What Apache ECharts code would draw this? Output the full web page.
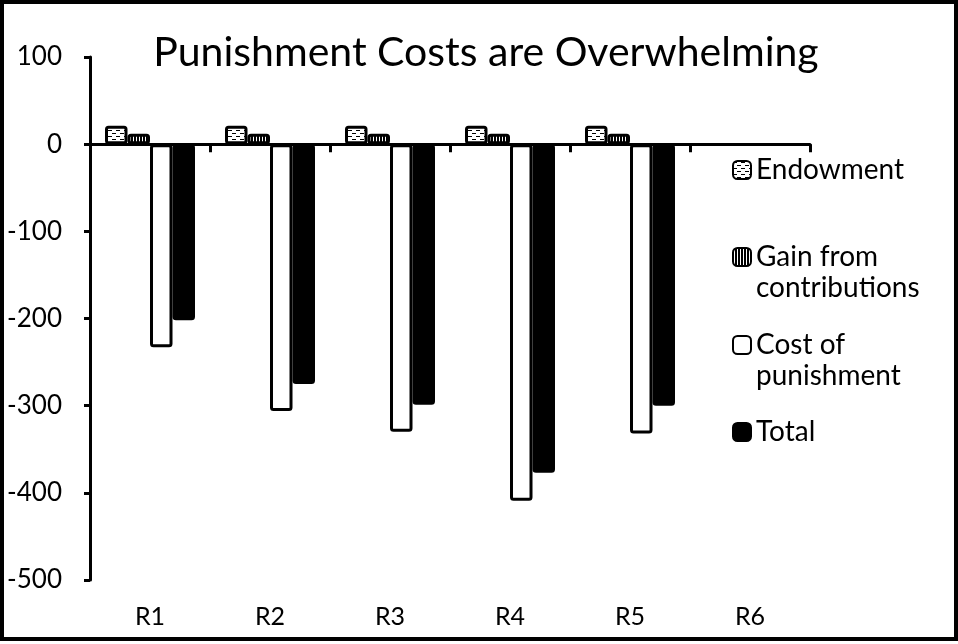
<!DOCTYPE html>
<html>
<head>
<meta charset="utf-8">
<script src="https://cdn.jsdelivr.net/npm/echarts@6/dist/echarts.min.js"></script>
<style>html,body{margin:0;padding:0;background:#fff;}#c{width:958px;height:644px;}</style>
</head>
<body>
<div id="c"></div>
<script>
var categories = ['R1', 'R2', 'R3', 'R4', 'R5', 'R6'];
var endowment = [21, 21, 21, 21, 21, null];
var gain = [12, 12, 12, 12, 12, null];
var costOfPunishment = [-233, -306, -330, -409, -332, null];
var total = [-202, -275, -299, -377, -300, null];
var yTicks = [100, 0, -100, -200, -300, -400, -500];

function makePattern(w, h, draw) {
  var cv = document.createElement('canvas');
  cv.width = w; cv.height = h;
  var ctx = cv.getContext('2d');
  draw(ctx);
  return { image: cv, repeat: 'repeat' };
}
var endowPattern = makePattern(8, 6, function (ctx) {
  ctx.fillStyle = '#fff'; ctx.fillRect(0, 0, 8, 6);
  ctx.fillStyle = '#000';
  ctx.fillRect(0, 1, 4, 1);
  ctx.fillRect(4, 4, 4, 1);
});
var gainPattern = makePattern(3, 3, function (ctx) {
  ctx.fillStyle = '#000'; ctx.fillRect(0, 0, 3, 3);
  ctx.fillStyle = '#fff'; ctx.fillRect(1, 0, 1, 3);
});

var font = 'Lato';
var chart = echarts.init(document.getElementById('c'), null, { renderer: 'canvas' });

function legendAt(name, top, twoLine) {
  return {
    data: [name],
    orient: 'vertical',
    left: 732,
    top: top,
    padding: 0,
    itemWidth: 18,
    itemHeight: 18,
    selectedMode: false,
    formatter: function (n) { return twoLine ? '\n' + n : n; },
    textStyle: { fontFamily: font, fontSize: 28, color: '#000', lineHeight: 31 }
  };
}

var barBase = { type: 'bar', barWidth: 22.5, barGap: '0%', xAxisIndex: 0 };
var bs = { borderColor: '#000', borderWidth: 3, borderRadius: 2 };

chart.setOption({
  animation: false,
  backgroundColor: '#fff',
  title: {
    text: 'Punishment Costs are Overwhelming',
    left: 481, top: 27, textAlign: 'center',
    textStyle: { fontFamily: font, fontSize: 41, fontWeight: 'normal', color: '#000' }
  },
  legend: [
    legendAt('Endowment', 154.5, false),
    legendAt('Gain from\ncontributions', 210.5, true),
    legendAt('Cost of\npunishment', 298.5, true),
    legendAt('Total', 416.5, false)
  ],
  grid: { left: 90, right: 148, top: 57, bottom: 64, containLabel: false },
  xAxis: [
    {
      type: 'category', data: categories, position: 'bottom',
      axisLine: { show: false, onZero: false }, axisTick: { show: false },
      axisLabel: { fontFamily: font, fontSize: 25, color: '#000', margin: 24 }
    },
    {
      type: 'category', data: categories, position: 'bottom',
      axisLine: { show: true, onZero: true, lineStyle: { color: '#000', width: 3 } },
      axisTick: { show: true, inside: false, length: 8, lineStyle: { color: '#000', width: 3 } },
      axisLabel: { show: false }
    }
  ],
  yAxis: {
    type: 'value', min: -500, max: 100, interval: 100,
    axisLine: { show: true, onZero: false, lineStyle: { color: '#000', width: 3 } },
    axisTick: { show: true, length: 6, lineStyle: { color: '#000', width: 3 } },
    splitLine: { show: false },
    axisLabel: { fontFamily: font, fontSize: 26, color: '#000', margin: 28,
      formatter: function (v) { return yTicks.indexOf(v) >= 0 ? String(v) : ''; } }
  },
  series: [
    Object.assign({}, barBase, { name: 'Endowment', data: endowment,
      itemStyle: Object.assign({ color: endowPattern }, bs) }),
    Object.assign({}, barBase, { name: 'Gain from\ncontributions', data: gain,
      itemStyle: Object.assign({ color: gainPattern }, bs) }),
    Object.assign({}, barBase, { name: 'Cost of\npunishment', data: costOfPunishment,
      itemStyle: Object.assign({ color: '#fff' }, bs) }),
    Object.assign({}, barBase, { name: 'Total', data: total,
      itemStyle: Object.assign({ color: '#000' }, bs) })
  ],
  graphic: [{
    type: 'rect', silent: true, z: 100,
    shape: { x: 2, y: 2, width: 954, height: 637 },
    style: { fill: 'none', stroke: '#000', lineWidth: 4 }
  }]
});
</script>
</body>
</html>
